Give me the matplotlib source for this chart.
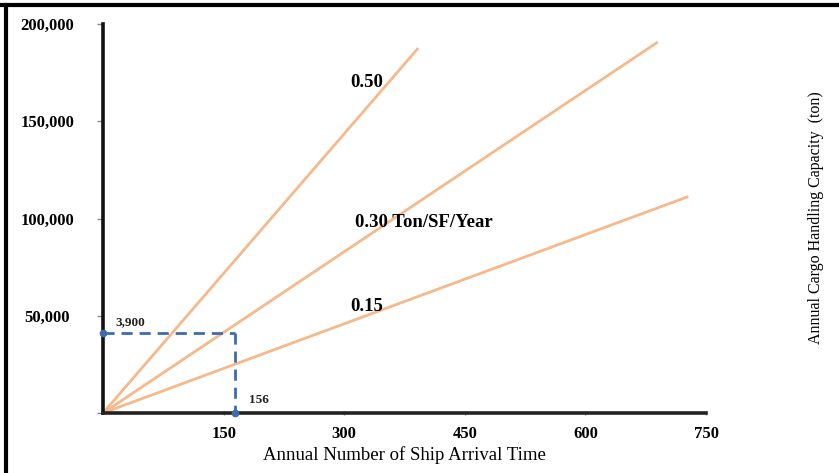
import matplotlib
matplotlib.use('Agg')
import matplotlib.pyplot as plt
from matplotlib.lines import Line2D

# rate lines (ton/SF/year) and where each drawn line stops
rates = ['0.50', '0.30', '0.15']
x_end = [392, 690, 728]
y_end = [187600, 190700, 111300]
rate_labels = ['0.50', '0.30 Ton/SF/Year', '0.15']
# reading example (dashed)
ex_x = 164
ex_y = 41000
ex_x_text = '156'
ex_y_text = '3,900'

xticks = [150, 300, 450, 600, 750]
yticks = [0, 50000, 100000, 150000, 200000]
ytick_labels = ['', '50,000', '100,000', '150,000', '200,000']

plt.rcParams['font.family'] = ['Liberation Serif', 'DejaVu Serif']

fig = plt.figure(figsize=(8.39, 4.73), dpi=100)
ax = fig.add_axes([0.1228, 0.1268, 0.7187, 0.8225])

orange = '#F6B98C'
for xe, ye in zip(x_end, y_end):
    ax.plot([0, xe], [0, ye], color=orange, lw=2, solid_capstyle='butt', zorder=2)

blue = '#3E6BAE'
ax.plot([0, ex_x], [ex_y, ex_y], color=blue, lw=2, ls=(0, (4, 2.5)), zorder=3)
ax.plot([ex_x, ex_x], [ex_y, 0], color=blue, lw=2, ls=(0, (4, 2.5)), zorder=3)
ax.plot([0, ex_x], [ex_y, 0], 'o', color=blue, ms=4.5, zorder=4, clip_on=False)

ax.text(15, ex_y + 2500, ex_y_text, fontsize=9.5, fontweight='bold', color='#222222',
        va='bottom', ha='left')
ax.text(ex_x + 17, 3500, ex_x_text, fontsize=9.5, fontweight='bold', color='#222222',
        va='bottom', ha='left')

# line labels
ax.text(308, 170000, rate_labels[0], fontsize=13.5, fontweight='bold', va='center')
ax.text(313, 98000, rate_labels[1], fontsize=13.5, fontweight='bold', va='center')
ax.text(308, 55000, rate_labels[2], fontsize=13.5, fontweight='bold', va='center')

ax.set_xlim(0, 750)
ax.set_ylim(0, 200000)
ax.set_xticks(xticks)
ax.set_xticklabels([str(v) for v in xticks], fontsize=12, fontweight='bold')
ax.set_yticks(yticks)
ax.set_yticklabels(ytick_labels, fontsize=12, fontweight='bold', ha='center')
ax.tick_params(axis='y', pad=36, length=4, color='#888888', width=1)
ax.tick_params(axis='x', pad=8, length=3, color='#888888', width=1, direction='inout')

for s in ['top', 'right']:
    ax.spines[s].set_visible(False)
ax.spines['left'].set_linewidth(2.6)
ax.spines['bottom'].set_linewidth(2.6)
ax.spines['left'].set_color('#111111')
ax.spines['bottom'].set_color('#222222')

ax.set_xlabel('Annual Number of Ship Arrival Time', fontsize=13.5, labelpad=3)

fig.text(0.972, 0.54, 'Annual Cargo Handling Capacity  (ton)', rotation=90,
         fontsize=11.5, ha='center', va='center')

# frame of the cropped picture
fig.add_artist(Line2D([0, 1], [0.989, 0.989], color='black', lw=3, transform=fig.transFigure))
fig.add_artist(Line2D([0.0075, 0.0075], [0, 0.989], color='black', lw=3, transform=fig.transFigure))

fig.savefig('out.png', dpi=100)
